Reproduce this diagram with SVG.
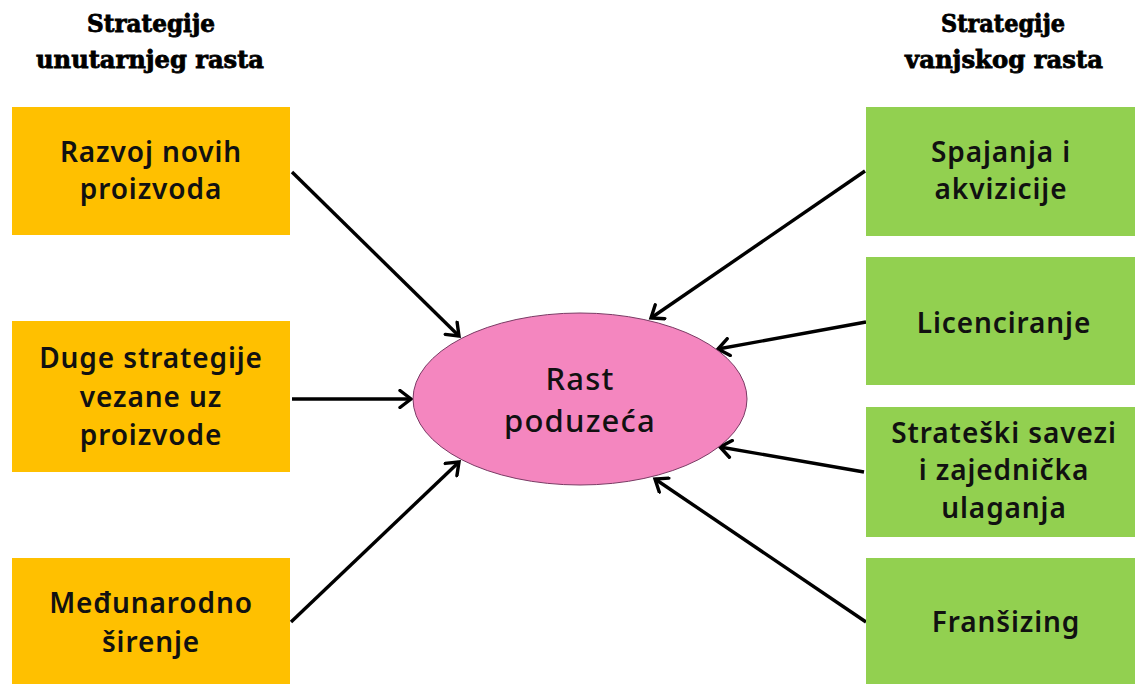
<svg xmlns="http://www.w3.org/2000/svg" width="1135" height="684" viewBox="0 0 1135 684">
<defs>
<marker id="arr" viewBox="0 0 20 20" refX="16" refY="10" markerWidth="20" markerHeight="20" markerUnits="userSpaceOnUse" orient="auto">
<path d="M5,1.5 L16,10 L5,18.5" fill="none" stroke="#000" stroke-width="3.4" stroke-linecap="round" stroke-linejoin="miter"/>
</marker>
<style>
.hdr{font-family:"DejaVu Serif","Liberation Serif",serif;font-weight:bold;font-size:24px;fill:#000;stroke:#000;stroke-width:0.8px;text-anchor:middle}
.lbl{font-family:"Noto Sans","Open Sans",sans-serif;font-weight:600;font-size:28px;letter-spacing:0.9px;fill:#111;text-anchor:middle}
.ctr{font-family:"Noto Sans","Open Sans",sans-serif;font-weight:500;font-size:31px;letter-spacing:1.2px;fill:#111;text-anchor:middle}
.org{fill:#FFC000}
.grn{fill:#92D050}
.con{stroke:#000;stroke-width:3.4;fill:none;marker-end:url(#arr)}
</style>
</defs>
<rect width="1135" height="684" fill="#fff"/>
<g id="headers">
<text class="hdr" x="151" y="32" textLength="128" lengthAdjust="spacingAndGlyphs">Strategije</text>
<text class="hdr" x="150" y="68" textLength="228" lengthAdjust="spacingAndGlyphs">unutarnjeg rasta</text>
<text class="hdr" x="1003" y="32" textLength="124" lengthAdjust="spacingAndGlyphs">Strategije</text>
<text class="hdr" x="1004" y="68" textLength="198" lengthAdjust="spacingAndGlyphs">vanjskog rasta</text>
</g>
<g id="connectors">
<line class="con" x1="292" y1="172" x2="459" y2="336"/>
<line class="con" x1="292" y1="399" x2="411" y2="399"/>
<line class="con" x1="291" y1="622" x2="459" y2="462"/>
<line class="con" x1="865" y1="171" x2="651" y2="318"/>
<line class="con" x1="866" y1="322" x2="718" y2="349"/>
<line class="con" x1="864" y1="472" x2="720" y2="447"/>
<line class="con" x1="866" y1="622" x2="655" y2="479"/>
</g>
<g id="node-center">
<ellipse cx="580" cy="399" rx="167" ry="86" fill="#F486BF" stroke="#7A3A64" stroke-width="1"/>
<text class="ctr" x="580" y="390">Rast</text>
<text class="ctr" x="580" y="432">poduzeća</text>
</g>
<g id="node-razvoj">
<rect class="org" x="12" y="107" width="278" height="128"/>
<text class="lbl" x="151" y="162">Razvoj novih</text>
<text class="lbl" x="151" y="199">proizvoda</text>
</g>
<g id="node-duge">
<rect class="org" x="12" y="321" width="278" height="151"/>
<text class="lbl" x="151" y="368">Duge strategije</text>
<text class="lbl" x="151" y="407">vezane uz</text>
<text class="lbl" x="151" y="445">proizvode</text>
</g>
<g id="node-medunarodno">
<rect class="org" x="12" y="558" width="278" height="126"/>
<text class="lbl" x="151" y="613">Međunarodno</text>
<text class="lbl" x="151" y="652">širenje</text>
</g>
<g id="node-spajanja">
<rect class="grn" x="866" y="107" width="269" height="129"/>
<text class="lbl" x="1001" y="162">Spajanja i</text>
<text class="lbl" x="1001" y="199">akvizicije</text>
</g>
<g id="node-licenciranje">
<rect class="grn" x="866" y="257" width="269" height="128"/>
<text class="lbl" x="1004" y="333">Licenciranje</text>
</g>
<g id="node-savezi">
<rect class="grn" x="866" y="407" width="269" height="130"/>
<text class="lbl" x="1004" y="443">Strateški savezi</text>
<text class="lbl" x="1004" y="480">i zajednička</text>
<text class="lbl" x="1004" y="518">ulaganja</text>
</g>
<g id="node-fransizing">
<rect class="grn" x="866" y="558" width="269" height="126"/>
<text class="lbl" x="1006" y="632">Franšizing</text>
</g>
</svg>
